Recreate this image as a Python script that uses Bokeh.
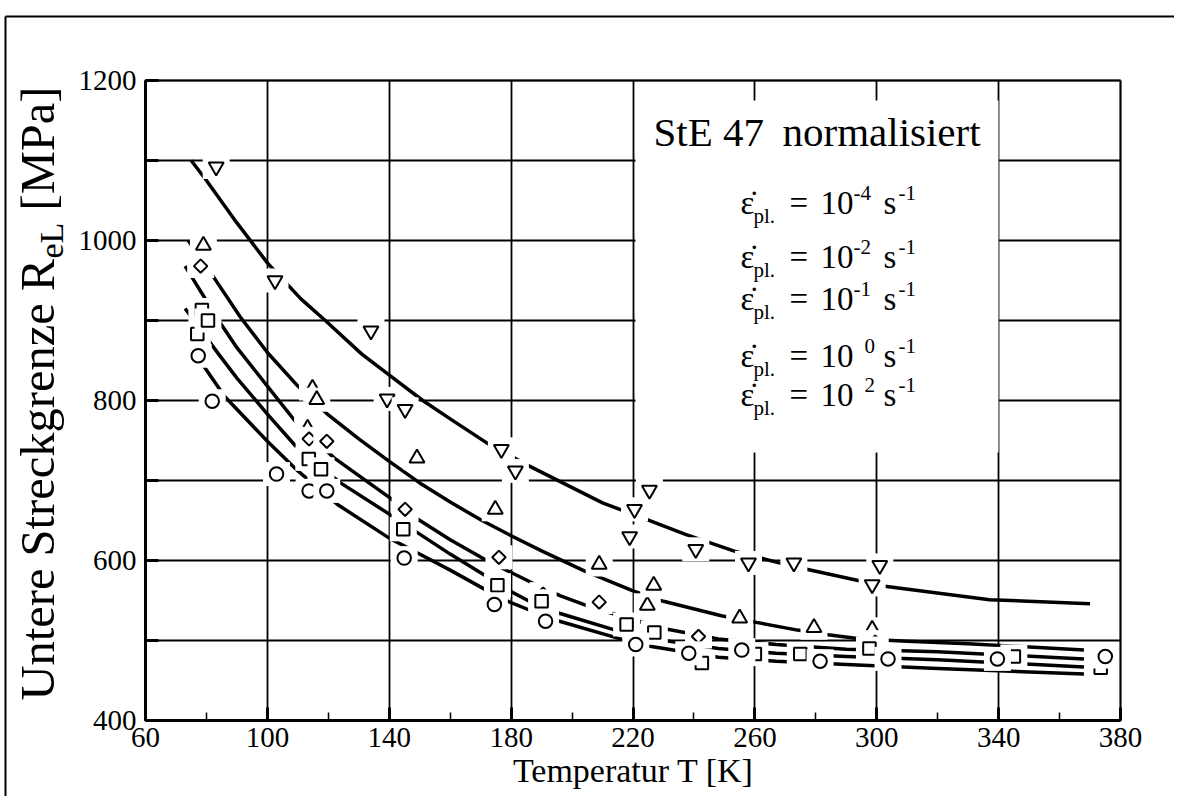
import math
from bokeh.plotting import figure
from bokeh.models import (Range1d, FixedTicker, Label, BoxAnnotation, ColumnDataSource,
                          LinearAxis, Grid)
from bokeh.embed import file_html
from bokeh.resources import INLINE

# ---------------- data ----------------
# measured points, one list pair per strain rate
T_e2 = [83.2, 102.5, 134.0, 139.3, 145.2, 176.8, 181.4, 218.9, 220.5, 225.4, 240.6, 257.9, 272.8, 298.5, 301.0]
R_e2 = [1092, 950, 887, 802, 789, 739, 712, 630, 664, 688, 614, 597, 597, 570, 594]

T_e0 = [79.0, 113.2, 114.8, 116.2, 149.1, 174.8, 208.9, 224.7, 226.8, 255.0, 279.4, 298.5]
R_e0 = [994, 765, 815, 801, 728, 664, 595, 544, 569, 528, 516, 514]

T_em1 = [78.1, 113.7, 119.5, 145.2, 176.0, 190.5, 208.9, 241.5, 299.5]
R_em1 = [968, 752, 749, 664, 604, 558, 548, 505, 498]

T_em2 = [77.0, 78.5, 80.5, 113.6, 117.6, 144.6, 175.5, 190.0, 217.9, 227.0, 242.6, 260.0, 274.9, 297.6, 345.0, 373.5]
R_em2 = [883, 913, 900, 727, 714, 639, 569, 549, 520, 510, 472, 483, 483, 490, 480, 466]

T_em4 = [77.3, 81.9, 103.0, 113.7, 119.5, 144.9, 174.5, 191.3, 220.9, 238.3, 255.7, 281.4, 303.7, 339.6, 375.0]
R_em4 = [856, 799, 708, 687, 687, 603, 545, 524, 495, 484, 488, 474, 477, 477, 480]

# fitted curves as drawn in the picture
C_e2_T = [75, 80, 90, 100, 111, 119, 131, 141, 151, 160, 172, 186, 210, 224, 237, 253, 268, 277, 295, 302, 337, 370]
C_e2_R = [1100, 1075, 1022, 972, 927, 900, 858, 829, 800, 777, 747, 718, 672, 652, 633, 612, 597, 589, 574, 568, 551, 546]

C_e0_T = [74, 81, 91, 100, 110, 120, 130, 140, 150, 160, 170, 180, 190, 204, 220, 230, 249, 260, 274, 282, 295, 310, 330, 368]
C_e0_R = [1000, 962, 905, 860, 818, 782, 752, 724, 697, 673, 651, 631, 612, 587, 562, 549, 531, 523, 513, 508, 502, 499, 496, 488]

C_em1_T = [73, 84, 90, 100, 110, 122, 140, 148, 160, 172, 180, 188, 196, 206, 213, 230, 248, 267, 290, 320, 368]
C_em1_R = [968, 900, 866, 818, 770, 728, 679, 655, 626, 600, 585, 570, 556, 542, 534, 515, 502, 495, 489, 486, 477]

C_em2_T = [73, 84, 90, 100, 110, 124, 140, 148, 160, 172, 177, 188, 195, 215, 232, 248, 267, 290, 320, 368]
C_em2_R = [915, 858, 828, 783, 740, 697, 658, 638, 608, 580, 567, 545, 535, 512, 499, 490, 484, 480, 476, 467]

C_em4_T = [74, 80, 86, 100, 110, 123, 140, 149, 160, 177, 188, 195, 215, 225, 248, 267, 290, 320, 368]
C_em4_R = [872, 838, 805, 749, 712, 670, 628, 610, 588, 552, 535, 525, 503, 493, 479, 474, 470, 465, 458]

x_ticks = [60, 100, 140, 180, 220, 260, 300, 340, 380]
x_minor = [80, 120, 160, 200, 240, 280, 320, 360]
x_tick_labels = ["60", "100", "140", "180", "220", "260", "300", "340", "380"]
y_ticks = [400, 500, 600, 700, 800, 900, 1000, 1100, 1200]
y_tick_labels = ["400", "", "600", "", "800", "", "1000", "", "1200"]
x_lo, x_hi = 60, 380
y_lo, y_hi = 400, 1200

legend_title_a = "StE 47"
legend_title_b = "normalisiert"
rate_exponents = ["-4", "-2", "-1", "0", "2"]
x_label = "Temperatur T [K]"
y_label_main = "Untere Streckgrenze R"
y_label_sub = "eL"
y_label_unit = "[MPa]"

FONT = "Liberation Serif"

# ---------------- geometry (picture pixels of the reference) ----------------
W, H = 1174, 796          # canvas, placed at picture (0, 0)
X0, Y0 = 0, 0
FL, FR, FT, FB = 145.0, 1120.0, 80.0, 720.0   # plot box in picture pixels
def TX(px):
    return x_lo + (px - FL) * (x_hi - x_lo) / (FR - FL)
def RY(py):
    return y_hi - (py - FT) * (y_hi - y_lo) / (FB - FT)

p = figure(width=W, height=H, x_range=Range1d(TX(X0), TX(X0 + W)), y_range=Range1d(RY(Y0 + H), RY(Y0)),
           output_backend="svg", toolbar_location=None, x_axis_location=None, y_axis_location=None,
           min_border=0, min_border_left=0, min_border_right=0, min_border_top=0, min_border_bottom=0)
p.center = []
p.background_fill_color = "white"
p.border_fill_color = "white"
p.outline_line_color = None

# grid restricted to the plot box
xg = Grid(dimension=0, ticker=FixedTicker(ticks=x_ticks), cross_bounds=(y_lo, y_hi),
          grid_line_color="black", grid_line_width=1.8)
yg = Grid(dimension=1, ticker=FixedTicker(ticks=y_ticks), cross_bounds=(x_lo, x_hi),
          grid_line_color="black", grid_line_width=1.8)
p.add_layout(xg)
p.add_layout(yg)

# axes fixed at the plot-box edges
xa = LinearAxis(fixed_location=y_lo, bounds=(x_lo, x_hi),
                ticker=FixedTicker(ticks=x_ticks, minor_ticks=x_minor))
ya = LinearAxis(fixed_location=x_lo, bounds=(y_lo, y_hi), ticker=FixedTicker(ticks=y_ticks))
xa.major_label_overrides = {t: l for t, l in zip(x_ticks, x_tick_labels)}
ya.major_label_overrides = {t: l for t, l in zip(y_ticks, y_tick_labels)}
for ax in (xa, ya):
    ax.axis_line_width = 3
    ax.axis_line_color = "black"
    ax.major_label_text_font = FONT
    ax.major_label_text_font_size = "29px"
    ax.major_label_text_color = "black"
    ax.major_tick_out = 0
    ax.major_tick_in = 13
    ax.major_tick_line_width = 3
    ax.major_tick_line_color = "black"
    ax.minor_tick_out = 0
xa.minor_tick_in = 8
xa.minor_tick_line_width = 1.5
xa.minor_tick_line_color = "black"
ya.minor_tick_line_color = None
xa.major_label_standoff = 7
ya.major_label_standoff = 9
p.add_layout(xa, "below")
p.add_layout(ya, "left")

# legend panel (white, over the grid)
box = BoxAnnotation(left=TX(635), right=TX(998), top=RY(100), bottom=RY(452),
                    fill_color="white", fill_alpha=1.0, line_color=None, level="glyph")
p.add_layout(box)

# curves
for ct, cr in [(C_e2_T, C_e2_R), (C_e0_T, C_e0_R), (C_em1_T, C_em1_R), (C_em2_T, C_em2_R), (C_em4_T, C_em4_R)]:
    p.line(ct, cr, line_width=3.5, line_color="black", line_join="round")

# markers with white masks
series = [
    (T_e2, R_e2, dict(marker="inverted_triangle", size=15, angle=0.0)),
    (T_e0, R_e0, dict(marker="triangle", size=15, angle=0.0)),
    (T_em1, R_em1, dict(marker="square", size=9.5, angle=math.pi / 4)),
    (T_em2, R_em2, dict(marker="square", size=12.5, angle=0.0)),
    (T_em4, R_em4, dict(marker="circle", size=13.5, angle=0.0)),
]
for ts, rs, spec in series:
    order = sorted(range(len(ts)), key=lambda i: ts[i])
    for i in order:
        src = ColumnDataSource(dict(x=ts[i:i + 1], y=rs[i:i + 1]))
        p.rect(x="x", y="y", width=27, height=24, width_units="screen", height_units="screen",
               fill_color="white", line_color=None, source=src)
        p.scatter(x="x", y="y", source=src, marker=spec["marker"], size=spec["size"],
                  angle=spec["angle"], fill_color="white", line_color="black", line_width=2)

# plot box outline
p.add_layout(BoxAnnotation(left=x_lo, right=x_hi, bottom=y_lo, top=y_hi, fill_color=None,
                           fill_alpha=0, line_color="black", line_width=3))
# outer picture frame (left and top edges)
p.segment(x0=[TX(5), TX(5)], y0=[RY(16), RY(16)], x1=[TX(5), TX(1400)], y1=[RY(1000), RY(16)],
          line_color="black", line_width=2)

def put(txt, px, py, size, align="left", angle=0, k=0.33):
    shift = k * size
    if angle == 0:
        x, y = px, py - shift
    else:
        x, y = px - shift, py
    p.add_layout(Label(x=TX(x), y=RY(y), text=txt, text_font=FONT, text_font_size="%gpx" % size,
                       text_color="black", text_baseline="alphabetic", text_align=align,
                       angle=angle, angle_units="deg"))

# ---------------- legend content ----------------
put(legend_title_a, 653, 145, 41)
put(legend_title_b, 782, 145, 41)

leg_markers = [("circle", 10.5, 0.0), ("square", 9.5, 0.0), ("square", 7.0, math.pi / 4),
               ("triangle", 12, 0.0), ("inverted_triangle", 12, 0.0)]
marker_y = [203, 257, 292, 353, 390]
baselines = [213, 267, 309, 366, 405]
for k in range(5):
    mk, ms, ma = leg_markers[k]
    p.scatter(x=[TX(726)], y=[RY(marker_y[k])], marker=mk, size=ms, angle=ma,
              fill_color="white", line_color="black", line_width=1.5)
    b = baselines[k]
    put("\u03b5\u0307", 740, b, 33)
    put("pl.", 753, b + 9, 21)
    put("=", 789, b, 33)
    put("10", 820, b, 33)
    ex = rate_exponents[k]
    put(ex, 853 if ex.startswith("-") else 864, b - 14, 21)
    put("s", 883, b, 33)
    put("-1", 898, b - 14, 21)

# ---------------- axis titles ----------------
put(x_label, 633, 781, 34, align="center")
put(y_label_main, 55, 700, 48.5, angle=90, k=0.37)
put(y_label_sub, 64, 258, 34, angle=90, k=0.37)
put(y_label_unit, 55, 210, 48.5, angle=90, k=0.37)

open("out.html", "w").write(file_html(p, INLINE))
